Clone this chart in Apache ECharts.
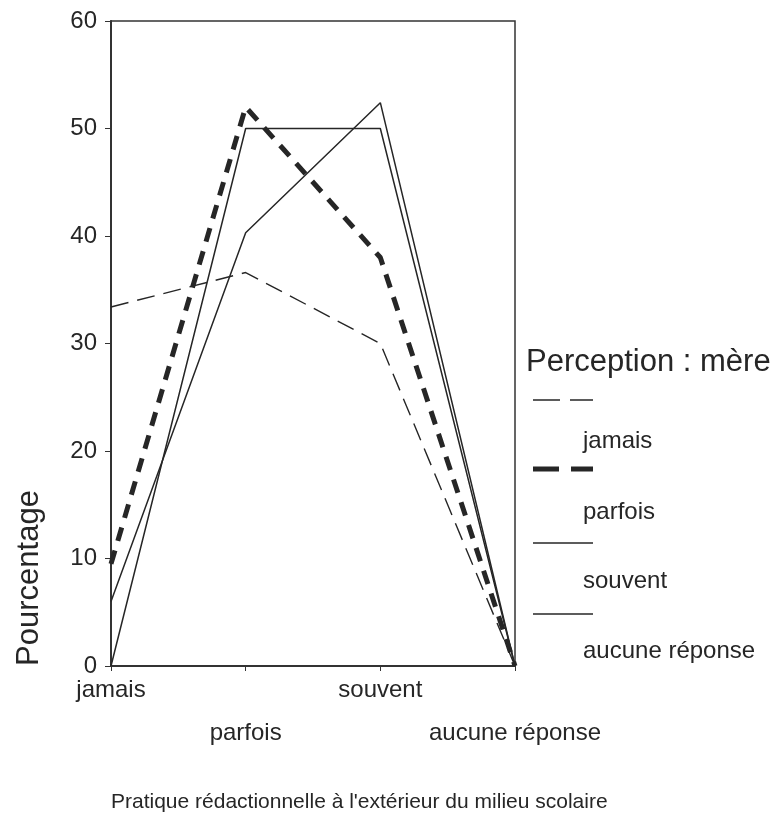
<!DOCTYPE html>
<html>
<head>
<meta charset="utf-8">
<script src="https://cdn.jsdelivr.net/npm/echarts@6/dist/echarts.min.js"></script>
<style>
  html, body { margin: 0; padding: 0; background: #fff; }
  #chart { width: 781px; height: 815px; }
</style>
</head>
<body>
<div id="chart"></div>
<script>
// Categories on the x axis
const categories = ['jamais', 'parfois', 'souvent', 'aucune réponse'];

// Percentages per perception group
const serieJamais = [33.4, 36.6, 30.0, 0];
const serieParfois = [9.5, 52.0, 38.0, 0];
const serieSouvent = [0, 50.0, 50.0, 0];
const serieAucune = [6.0, 40.3, 52.4, 0];

const seriesNames = ['jamais', 'parfois', 'souvent', 'aucune réponse'];
const seriesData = [serieJamais, serieParfois, serieSouvent, serieAucune];

const yTicks = { min: 0, max: 60, interval: 10 };

const FONT = '"Liberation Sans", Arial, sans-serif';
const INK = '#262626';

// Line style for each group
const lineStyles = [
  { width: 1.4, type: [18, 9] },
  { width: 5, type: [14, 10] },
  { width: 1.5, type: 'solid' },
  { width: 1.5, type: 'solid' }
];

const chart = echarts.init(document.getElementById('chart'), null, { renderer: 'canvas' });

// Legend drawn as graphic elements from the series list
const legendLeft = 533;
const legendSymbolY = [400, 469, 543, 614];
const legendLabelY = [442, 513, 582, 652];
const legendGraphics = [{
  type: 'text', left: 526, top: 347,
  style: { text: 'Perception : mère', font: '31px ' + FONT, fill: INK }
}];
seriesNames.forEach((name, i) => {
  const ls = lineStyles[i];
  legendGraphics.push({
    type: 'line',
    shape: { x1: legendLeft, y1: legendSymbolY[i], x2: legendLeft + 60, y2: legendSymbolY[i] },
    style: {
      stroke: INK, lineWidth: ls.width,
      lineDash: Array.isArray(ls.type) ? (i === 0 ? [27, 10] : [26, 12]) : null
    }
  });
  legendGraphics.push({
    type: 'text', left: 583, top: legendLabelY[i] - 13,
    style: { text: name, font: '24px ' + FONT, fill: INK }
  });
});

const option = {
  animation: false,
  backgroundColor: '#fff',
  grid: {
    left: 111, right: 266, top: 21, bottom: 149,
    show: true, borderColor: '#333', borderWidth: 1.5, backgroundColor: 'transparent'
  },
  xAxis: {
    type: 'category',
    data: categories,
    boundaryGap: false,
    axisLine: { lineStyle: { color: '#333', width: 2 } },
    axisTick: { show: true, length: 5, alignWithLabel: true, lineStyle: { color: '#333' } },
    axisLabel: {
      interval: 0,
      margin: 3,
      color: INK,
      fontFamily: FONT,
      fontSize: 24,
      lineHeight: 43,
      formatter: (v, i) => (i % 2 ? '\n' + v : v)
    },
    splitLine: { show: false }
  },
  yAxis: {
    type: 'value',
    min: yTicks.min, max: yTicks.max, interval: yTicks.interval,
    axisLine: { show: true, lineStyle: { color: '#333', width: 2 } },
    axisTick: { show: true, length: 6, lineStyle: { color: '#333' } },
    axisLabel: { color: INK, fontFamily: FONT, fontSize: 24, margin: 14 },
    splitLine: { show: false }
  },
  series: seriesNames.map((name, i) => ({
    name: name,
    type: 'line',
    data: seriesData[i],
    symbol: 'none',
    lineStyle: { color: INK, width: lineStyles[i].width, type: lineStyles[i].type },
    z: i === 1 ? 3 : 2
  })),
  graphic: [
    {
      type: 'text', x: 14, y: 578, rotation: Math.PI / 2,
      style: { text: 'Pourcentage', font: '31px ' + FONT, fill: INK, align: 'center', verticalAlign: 'top' }
    },
    {
      type: 'text', left: 111, top: 792,
      style: { text: "Pratique rédactionnelle à l'extérieur du milieu scolaire", font: '21px ' + FONT, fill: INK }
    }
  ].concat(legendGraphics)
};

chart.setOption(option);
</script>
</body>
</html>
